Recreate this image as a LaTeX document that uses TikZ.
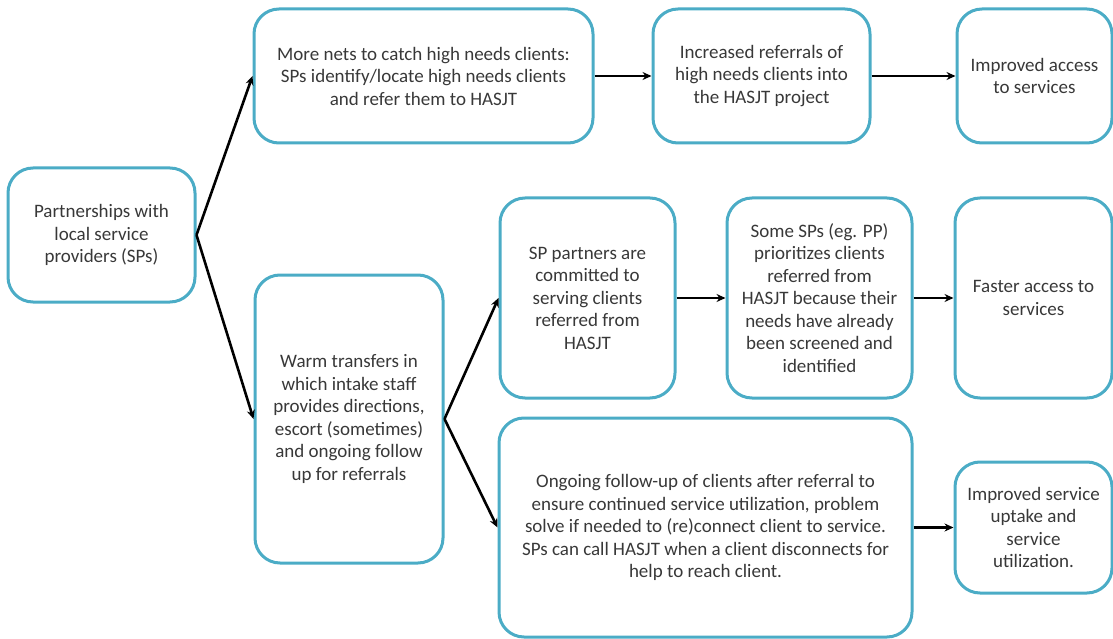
\documentclass[tikz,border=0pt]{standalone}
\usepackage{fontspec}
\setmainfont{Carlito}
\usetikzlibrary{arrows.meta}
\definecolor{boxblue}{HTML}{4BACC6}
\definecolor{txtgrey}{HTML}{383838}

\begin{document}
\begin{tikzpicture}[x=1pt,y=-1pt,
		box/.style={draw=boxblue, line width=3pt, rounded corners=25pt, align=center,
			text=txtgrey, font=\fontsize{19}{22.5}\selectfont, inner sep=0pt},
		link/.style={-{Stealth[length=9pt,width=8pt]}, line width=2.6pt, black}]
				\useasboundingbox (0,0) rectangle (1113,639);
				\node[box, minimum width=187pt, minimum height=134pt] (part) at (101.5, 235) {Partnerships with\\local service\\providers (SPs)};
				\node[box, minimum width=339pt, minimum height=134pt] (nets) at (423.5, 76) {More nets to catch high needs clients:\\SPs identify/locate high needs clients\\and refer them to HASJT};
				\node[box, minimum width=217pt, minimum height=134pt] (incr) at (761.5, 76) {Increased referrals of\\high needs clients into\\the HASJT project};
				\node[box, minimum width=155pt, minimum height=134pt] (acc) at (1034.5, 76) {Improved access\\to services};
				\node[box, minimum width=188pt, minimum height=288pt] (warm) at (349, 419) {Warm transfers in\\which intake staff\\provides directions,\\escort (sometimes)\\and ongoing follow\\up for referrals};
				\node[box, minimum width=175pt, minimum height=200pt] (sp) at (587.5, 298) {SP partners are\\committed to\\serving clients\\referred from\\HASJT};
				\node[box, minimum width=185pt, minimum height=200pt] (some) at (819.5, 298) {Some SPs (eg. PP)\\prioritizes clients\\referred from\\HASJT because their\\needs have already\\been screened and\\identified};
				\node[box, minimum width=157pt, minimum height=200pt] (fast) at (1033.5, 298) {Faster access to\\services};
				\node[box, minimum width=413pt, minimum height=219pt] (ong) at (705.5, 527.5) {Ongoing follow-up of clients after referral to\\ensure continued service utilization, problem\\solve if needed to (re)connect client to service.\\SPs can call HASJT when a client disconnects for\\help to reach client.};
				\node[box, minimum width=157pt, minimum height=131pt] (upt) at (1033.5, 527.5) {Improved service\\uptake and\\service\\utilization.};
				\draw[link] (part.east) to (nets.west);
				\draw[link] (part.east) to (warm.west);
				\draw[link] (nets) to (incr);
				\draw[link] (incr) to (acc);
				\draw[link] (warm.east) to (sp.west);
				\draw[link] (warm.east) to (ong.west);
				\draw[link] (sp) to (some);
				\draw[link] (some) to (fast);
				\draw[link] (ong) to (upt);
			\end{tikzpicture}
\end{document}
